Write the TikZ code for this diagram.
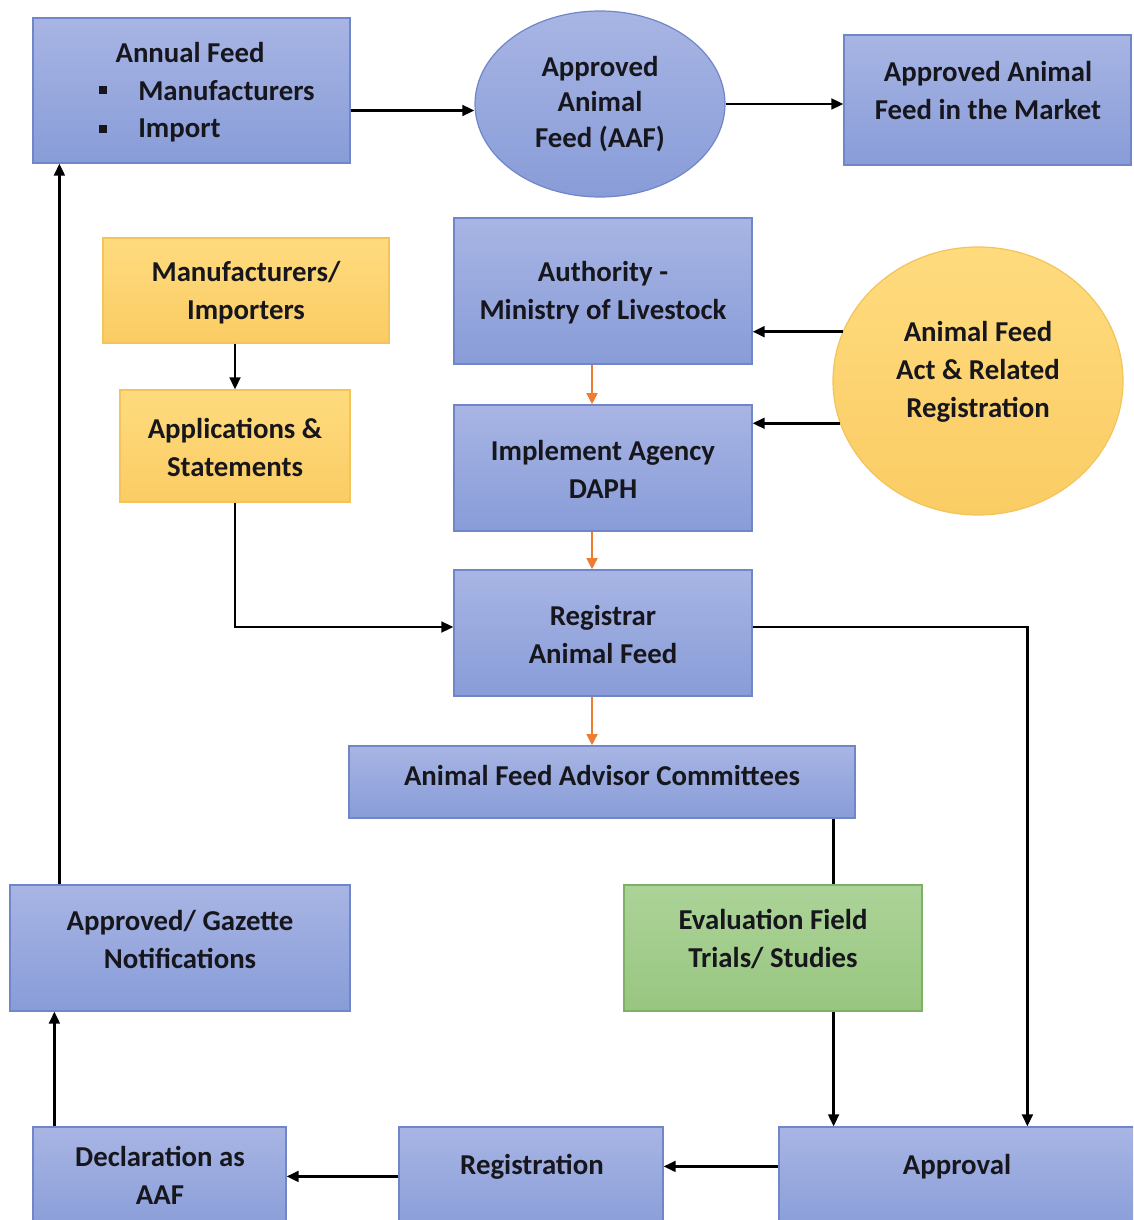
\documentclass[tikz,border=0pt]{standalone}
\usepackage{fontspec}
\setmainfont{Carlito}
\usetikzlibrary{shapes.geometric,arrows.meta,fit,backgrounds}
\definecolor{btop}{RGB}{168,181,228}
\definecolor{bbot}{RGB}{136,156,216}
\definecolor{bborder}{RGB}{112,134,200}
\definecolor{otop}{RGB}{255,219,126}
\definecolor{obot}{RGB}{250,204,100}
\definecolor{oborder}{RGB}{242,196,90}
\definecolor{gtop}{RGB}{172,211,152}
\definecolor{gbot}{RGB}{152,198,128}
\definecolor{gborder}{RGB}{125,178,100}
\definecolor{oarrow}{RGB}{237,125,49}
\definecolor{txtc}{RGB}{22,22,28}
\begin{document}
\begin{tikzpicture}[x=0.75pt,y=-0.75pt,
  font=\fontsize{21.6}{28.5}\selectfont\bfseries,
  shapebase/.style={line width=0.9pt, inner sep=0, shading angle=0},
  bluebox/.style={shapebase, draw=bborder, top color=btop, bottom color=bbot},
  orangebox/.style={shapebase, draw=oborder, top color=otop, bottom color=obot},
  greenbox/.style={shapebase, draw=gborder, top color=gtop, bottom color=gbot},
  txt/.style={inner sep=0, align=center, text=txtc},
  arr/.style={-{Triangle[length=9pt,width=8pt]}, line width=2pt, black},
  oarr/.style={-{Triangle[length=8.5pt,width=8pt]}, line width=2pt, oarrow}]
\useasboundingbox (0,0) rectangle (1133,1220);
\clip (0,0) rectangle (1133,1220);

% top row
\node[bluebox, fit={(33,18)(350,163)}] (annual) {};
\node[txt] (annualT) at (190,53) {Annual Feed};
\node[txt, anchor=west] (annualM) at (138,91) {Manufacturers};
\node[txt, anchor=west] (annualI) at (138,130) {Import};
\node[txt] (bul1) at (103,90) {\rule{5.5pt}{5.5pt}};
\node[txt] (bul2) at (103,129) {\rule{5.5pt}{5.5pt}};

\node[ellipse, bluebox, minimum width=187.5pt, minimum height=139.5pt] (aaf) at (600,104) {};
\node[txt, font=\fontsize{21.6}{26.5}\selectfont\bfseries] (aafT) at (600,104) {Approved\\Animal\\Feed (AAF)};
\node[bluebox, fit={(844,35)(1131,165)}] (market) {};
\node[txt] (marketT) at (988,91) {Approved Animal\\Feed in the Market};

% middle
\node[orangebox, fit={(103,238)(389,343)}] (man) {};
\node[txt] (manT) at (246,293) {Manufacturers/\\Importers};
\node[orangebox, fit={(120,390)(350,502)}] (app) {};
\node[txt] (appT) at (235,447) {Applications \&\\Statements};

\node[bluebox, fit={(454,218)(752,364)}] (auth) {};
\node[txt] (authT) at (603,293) {Authority -\\Ministry of Livestock};
\node[bluebox, fit={(454,405)(752,531)}] (impl) {};
\node[txt] (implT) at (603,469) {Implement Agency\\DAPH};
\node[bluebox, fit={(454,570)(752,696)}] (reg) {};
\node[txt] (regT) at (603,634) {Registrar\\Animal Feed};
\node[bluebox, fit={(349,746)(855,818)}] (adv) {};
\node[txt] (advT) at (602,775) {Animal Feed Advisor Committees};

\node[ellipse, orangebox, minimum width=217.5pt, minimum height=201pt] (act) at (978,381) {};
\node[txt] (actT) at (978,372) {Animal Feed\\Act \& Related\\Registration};

\node[greenbox, fit={(624,885)(922,1011)}] (eval) {};
\node[txt] (evalT) at (773,939) {Evaluation Field\\Trials/ Studies};
\node[bluebox, fit={(10,885)(350,1011)}] (gaz) {};
\node[txt] (gazT) at (180,939) {Approved/ Gazette\\Notifications};

% bottom row
\node[bluebox, fit={(33,1127)(286,1235)}] (decl) {};
\node[txt] (declT) at (160,1175) {Declaration as\\AAF};
\node[bluebox, fit={(399,1127)(663,1235)}] (regn) {};
\node[txt] (regnT) at (532,1167) {Registration};
\node[bluebox, fit={(779,1127)(1136,1235)}] (appr) {};
\node[txt] (apprT) at (957,1167) {Approval};

% connectors
\draw[arr] ([yshift=-15pt]annual.east) -- ([yshift=-15pt]annual.east -| aaf.west);
\draw[arr] (aaf.east) -- (aaf.east -| market.west);
\draw[arr] (man.south -| app.north) -- (app.north);
\draw[arr] (app.south) |- ([yshift=4.5pt]reg.west);
\draw[oarr] ([xshift=-8.25pt]auth.south) -- ([xshift=-8.25pt]impl.north);
\draw[oarr] ([xshift=-8.25pt]impl.south) -- ([xshift=-8.25pt]reg.north);
\draw[oarr] ([xshift=-8.25pt]reg.south) -- ([xshift=-8.25pt]reg.south |- adv.north);
\draw[arr] (act.160) -- (act.160 -| auth.east);
\draw[arr] (act.197) -- (act.197 -| impl.east);
\draw[arr] ([yshift=4.5pt]reg.east) -| ([xshift=186.75pt]appr.north west);
\begin{pgfonlayer}{background}
\draw[arr] ([xshift=-16.5pt]adv.south east) -- ([xshift=-16.5pt]adv.south east |- appr.north);
\end{pgfonlayer}
\draw[arr] ([yshift=-30pt]appr.north west) -- ([yshift=-30pt]appr.north west -| regn.east);
\draw[arr] ([yshift=-37.5pt]regn.north west) -- ([yshift=-37.5pt]regn.north west -| decl.east);
\draw[arr] ([xshift=16.5pt]decl.north west) -- ([xshift=16.5pt]decl.north west |- gaz.south);
\draw[arr] ([xshift=37.5pt]gaz.north west) -- ([xshift=37.5pt]gaz.north west |- annual.south);
\end{tikzpicture}
\end{document}
